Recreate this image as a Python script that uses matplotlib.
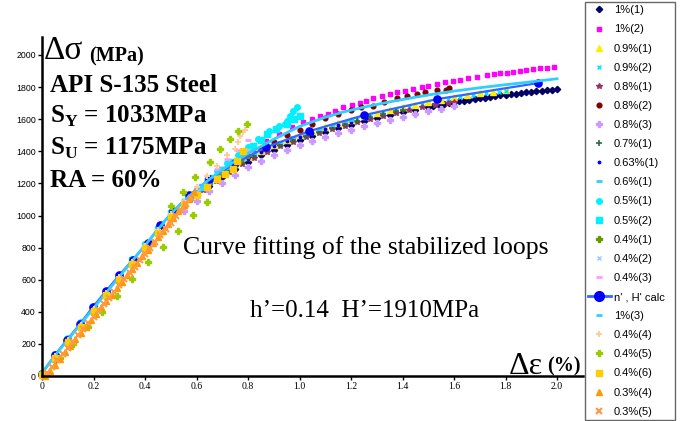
import matplotlib
matplotlib.use('Agg')
import matplotlib.pyplot as plt
from matplotlib.lines import Line2D

plt.rcParams['mathtext.fontset'] = 'custom'
plt.rcParams['mathtext.rm'] = 'Liberation Serif'
plt.rcParams['mathtext.bf'] = 'Liberation Serif:bold'

W, H = 689, 421

# ---------------- data (delta-epsilon in %, delta-sigma in MPa) ----------------
eps_lin = [0.00, 0.05, 0.10, 0.15, 0.20, 0.25, 0.30, 0.35, 0.40, 0.45, 0.50]

# 1%(1)
eps_1_1 = [0.55, 0.60, 0.65, 0.70, 0.75, 0.80, 0.85, 0.90, 0.95, 1.00, 1.05, 1.10, 1.15, 1.20, 1.25,
           1.30, 1.35, 1.40, 1.45, 1.50, 1.52, 1.54, 1.56, 1.58, 1.60, 1.62, 1.64, 1.66, 1.68, 1.70,
           1.72, 1.74, 1.76, 1.78, 1.80, 1.82, 1.84, 1.86, 1.88, 1.90, 1.92, 1.94, 1.96, 1.98, 2.00]
sig_1_1_lin = [5, 105, 205, 300, 400, 498, 595, 695, 792, 890, 985]
sig_1_1 = [1060, 1125, 1185, 1240, 1290, 1335, 1375, 1410, 1442, 1470, 1496, 1520, 1543, 1565, 1586,
           1606, 1625, 1643, 1660, 1676, 1682, 1688, 1694, 1700, 1706, 1711, 1716, 1720, 1725, 1730,
           1734, 1739, 1743, 1748, 1752, 1756, 1760, 1764, 1767, 1771, 1774, 1777, 1781, 1784, 1787]

# 1%(2)
eps_1_2 = [0.55, 0.60, 0.65, 0.70, 0.74, 0.78, 0.82, 0.87, 0.92, 0.97, 1.014, 1.048, 1.08, 1.11, 1.138,
           1.17, 1.203, 1.235, 1.26, 1.287, 1.32, 1.35, 1.377, 1.41, 1.44, 1.475, 1.50, 1.533, 1.565,
           1.597, 1.623, 1.656, 1.688, 1.727, 1.755, 1.78, 1.805, 1.83, 1.855, 1.88, 1.905, 1.934,
           1.96, 1.99]
sig_1_2_lin = [20, 130, 232, 330, 428, 527, 625, 722, 820, 918, 1015]
sig_1_2 = [1085, 1160, 1225, 1290, 1335, 1375, 1412, 1463, 1505, 1550, 1583, 1600, 1617, 1631, 1652,
           1673, 1688, 1704, 1714, 1729, 1742, 1754, 1767, 1777, 1787, 1798, 1808, 1817, 1829,
           1837, 1844, 1854, 1860, 1875, 1880, 1885, 1890, 1896, 1901, 1906, 1911, 1917,
           1921, 1926]

# 0.9%(1)
eps_09_1 = [0.55, 0.60, 0.65, 0.70, 0.75, 0.80, 0.85, 0.90, 0.95, 1.00, 1.05, 1.10, 1.15, 1.20, 1.25,
            1.30, 1.35, 1.40, 1.45, 1.50, 1.55, 1.60, 1.65, 1.70, 1.75, 1.80]
sig_09_1_lin = [10, 118, 215, 313, 412, 510, 608, 706, 804, 902, 1000]
sig_09_1 = [1085, 1150, 1212, 1268, 1318, 1363, 1403, 1440, 1472, 1500, 1527, 1551, 1574, 1596, 1617,
            1637, 1656, 1674, 1691, 1707, 1722, 1736, 1749, 1761, 1771, 1780]

# 0.9%(2)
eps_09_2 = [0.575, 0.625, 0.675, 0.725, 0.775, 0.825, 0.875, 0.925, 0.975, 1.025, 1.075, 1.125, 1.175,
            1.225, 1.275, 1.325, 1.375, 1.425, 1.475, 1.525, 1.575, 1.625, 1.675, 1.725, 1.775, 1.80]
sig_09_2_lin = [15, 122, 220, 320, 418, 515, 613, 711, 809, 907, 1005]
sig_09_2 = [1115, 1180, 1238, 1290, 1338, 1380, 1417, 1451, 1481, 1508, 1533, 1557, 1579,
            1600, 1621, 1640, 1659, 1676, 1693, 1708, 1723, 1737, 1749, 1761, 1772, 1778]

# 0.8%(1)
eps_08_1 = [0.575, 0.625, 0.675, 0.725, 0.775, 0.825, 0.875, 0.925, 0.975, 1.025, 1.075, 1.125, 1.175,
            1.225, 1.275, 1.325, 1.375, 1.425, 1.475, 1.525, 1.575, 1.60]
sig_08_1_lin = [8, 108, 206, 303, 400, 500, 597, 695, 793, 890, 990]
sig_08_1 = [1100, 1160, 1218, 1270, 1318, 1360, 1397, 1431, 1461, 1488, 1513, 1536, 1559,
            1580, 1601, 1620, 1639, 1656, 1673, 1689, 1703, 1710]

# 0.8%(2)
eps_08_2 = [0.55, 0.60, 0.65, 0.70, 0.75, 0.80, 0.85, 0.90, 0.95, 1.00, 1.05, 1.10, 1.15, 1.20, 1.24,
            1.286, 1.33, 1.377, 1.416, 1.455, 1.487, 1.533, 1.57, 1.58]
sig_08_2_lin = [10, 112, 210, 310, 407, 505, 603, 701, 800, 897, 995]
sig_08_2 = [1075, 1145, 1210, 1268, 1320, 1368, 1412, 1460, 1500, 1535, 1570, 1605, 1635, 1655, 1673,
            1683, 1708, 1729, 1746, 1760, 1771, 1781, 1783, 1794]

# 0.8%(3)
eps_08_3 = [0.55, 0.60, 0.65, 0.70, 0.75, 0.80, 0.85, 0.90, 0.95, 1.00, 1.05, 1.10, 1.15, 1.20, 1.25,
            1.30, 1.35, 1.40, 1.45, 1.50, 1.55, 1.60]
sig_08_3_lin = [0, 95, 195, 292, 390, 490, 588, 686, 784, 882, 980]
sig_08_3 = [1030, 1090, 1150, 1205, 1255, 1300, 1340, 1378, 1410, 1440, 1466, 1490, 1513, 1535, 1556,
            1576, 1596, 1615, 1633, 1650, 1666, 1681]

# 0.7%(1)
eps_07_1 = [0.575, 0.625, 0.675, 0.725, 0.775, 0.825, 0.875, 0.925, 0.975, 1.025, 1.075, 1.125, 1.175,
            1.225, 1.275, 1.325, 1.375, 1.40]
sig_07_1_lin = [5, 112, 212, 308, 406, 505, 602, 700, 798, 896, 995]
sig_07_1 = [1110, 1170, 1228, 1280, 1328, 1370, 1407, 1441, 1471, 1498, 1523, 1546, 1569,
            1590, 1611, 1630, 1649, 1658]

# 0.63%(1)
eps_063_1 = [0.55, 0.60, 0.65, 0.70, 0.75, 0.80, 0.85, 0.90, 0.95, 1.00, 1.05, 1.10, 1.15, 1.20, 1.26]
sig_063_1_lin = [10, 116, 215, 314, 412, 510, 608, 706, 804, 902, 1000]
sig_063_1 = [1080, 1145, 1205, 1260, 1310, 1355, 1395, 1430, 1462, 1490, 1516, 1540, 1563, 1585, 1610]

# 0.6%(1)
eps_06_1 = [0.575, 0.625, 0.675, 0.725, 0.775, 0.825, 0.875, 0.925, 0.975, 1.025, 1.075, 1.125,
            1.175, 1.20]
sig_06_1_lin = [15, 125, 225, 322, 420, 520, 618, 716, 814, 912, 1010]
sig_06_1 = [1120, 1185, 1243, 1296, 1345, 1388, 1425, 1460, 1490, 1517, 1542, 1566, 1588, 1598]

# 0.5%(1)
eps_05_1 = [0.55, 0.60, 0.64, 0.68, 0.72, 0.76, 0.80, 0.84, 0.88, 0.92, 0.944, 0.95, 0.963, 0.976, 0.989]
sig_05_1_lin = [20, 135, 236, 335, 432, 530, 628, 726, 824, 922, 1020]
sig_05_1 = [1090, 1165, 1220, 1275, 1325, 1378, 1428, 1478, 1525, 1560, 1569, 1590, 1621, 1652, 1673]

# 0.5%(2)
eps_05_2 = [0.575, 0.62, 0.66, 0.70, 0.74, 0.78, 0.82, 0.85, 0.873, 0.91, 0.95, 0.98, 1.00]
sig_05_2_lin = [15, 130, 230, 330, 427, 525, 623, 721, 819, 917, 1015]
sig_05_2 = [1120, 1180, 1235, 1285, 1335, 1385, 1432, 1470, 1506, 1540, 1569, 1600, 1620]

# 0.4%(1)
eps_04_1 = [0.55, 0.60, 0.65, 0.70, 0.74, 0.77, 0.80]
sig_04_1_lin = [5, 102, 200, 298, 396, 495, 593, 690, 788, 886, 985]
sig_04_1 = [1070, 1140, 1205, 1265, 1310, 1345, 1380]

# 0.4%(2)
eps_04_2 = [0.55, 0.60, 0.65, 0.70, 0.74, 0.78, 0.80]
sig_04_2_lin = [15, 120, 220, 318, 415, 515, 612, 710, 808, 906, 1005]
sig_04_2 = [1080, 1150, 1218, 1280, 1330, 1380, 1410]

# 0.4%(3)
eps_04_3 = [0.55, 0.60, 0.64, 0.68, 0.72, 0.76, 0.80]
sig_04_3_lin = [20, 126, 226, 324, 422, 520, 618, 716, 814, 912, 1010]
sig_04_3 = [1090, 1165, 1230, 1290, 1350, 1410, 1470]

# n', H' calc
eps_calc = [0.0, 0.05, 0.097, 0.148, 0.198, 0.25, 0.30, 0.353, 0.41, 0.46, 0.51, 0.57, 0.65, 0.75,
            0.87, 1.037, 1.25, 1.534, 1.926]
sig_calc = [15, 131, 225, 325, 431, 531, 628, 725, 831, 938, 1025, 1125, 1225, 1325,
            1425, 1525, 1625, 1725, 1825]

# 1%(3)
eps_1_3 = [0.55, 0.60, 0.65, 0.70, 0.75, 0.80, 0.85, 0.90, 0.95, 1.00, 1.10, 1.17, 1.25, 1.35, 1.45,
           1.52, 1.60, 1.70, 1.80, 1.90, 2.00]
sig_1_3_lin = [20, 126, 226, 324, 422, 520, 618, 716, 814, 912, 1010]
sig_1_3 = [1090, 1160, 1225, 1285, 1340, 1388, 1430, 1475, 1515, 1555, 1612, 1645, 1675, 1708, 1737,
           1756, 1775, 1796, 1815, 1833, 1852]

# 0.4%(4)
eps_04_4 = [0.55, 0.60, 0.64, 0.68, 0.72, 0.75, 0.76, 0.77, 0.78, 0.79]
sig_04_4_lin = [15, 122, 222, 320, 418, 517, 615, 713, 811, 909, 1008]
sig_04_4 = [1090, 1175, 1245, 1310, 1375, 1412, 1456, 1494, 1519, 1530]

# 0.4%(5)
eps_04_5 = [0.004, 0.07, 0.12, 0.18, 0.233, 0.29, 0.35, 0.41, 0.47, 0.528, 0.586, 0.64,
            0.50, 0.548, 0.594, 0.652, 0.69, 0.73, 0.76, 0.796]
sig_04_5 = [25, 110, 200, 306, 400, 500, 606, 712, 806, 906, 1006, 1081,
            1060, 1144, 1237, 1331, 1412, 1475, 1525, 1569]

# 0.4%(6)
eps_04_6 = [0.55, 0.60, 0.64, 0.68, 0.71, 0.74, 0.757, 0.78]
sig_04_6_lin = [5, 110, 210, 306, 404, 502, 600, 698, 796, 894, 993]
sig_04_6 = [1065, 1130, 1180, 1225, 1260, 1290, 1338, 1400]

# 0.3%(4)
eps_03_4 = [0.01, 0.03, 0.05, 0.07, 0.09, 0.11, 0.13, 0.15, 0.17, 0.19, 0.21, 0.23, 0.25, 0.27, 0.29,
            0.31, 0.33, 0.35, 0.37, 0.39, 0.41, 0.43, 0.45, 0.47, 0.49, 0.51, 0.53, 0.55, 0.57, 0.59]
sig_03_4 = [0, 30, 70, 109, 149, 189, 229, 269, 308, 348, 388, 428, 468, 507, 547,
            587, 627, 667, 706, 746, 786, 826, 866, 905, 945, 985, 1025, 1065, 1104, 1144]

# 0.3%(5)
eps_03_5 = [0.02, 0.04, 0.06, 0.08, 0.10, 0.12, 0.14, 0.16, 0.18, 0.20, 0.22, 0.24, 0.26, 0.28, 0.30,
            0.32, 0.34, 0.36, 0.38, 0.40, 0.42, 0.44, 0.46, 0.48, 0.50, 0.52, 0.54, 0.56, 0.58]
sig_03_5 = [20, 58, 97, 136, 175, 214, 253, 292, 331, 370, 409, 448, 487, 526, 565,
            604, 643, 682, 721, 760, 799, 838, 877, 916, 955, 994, 1033, 1072, 1111]

labels = ['1%(1)', '1%(2)', '0.9%(1)', '0.9%(2)', '0.8%(1)', '0.8%(2)', '0.8%(3)', '0.7%(1)',
          '0.63%(1)', '0.6%(1)', '0.5%(1)', '0.5%(2)', '0.4%(1)', '0.4%(2)', '0.4%(3)',
          "n' , H' calc", '1%(3)', '0.4%(4)', '0.4%(5)', '0.4%(6)', '0.3%(4)', '0.3%(5)']

series = [
    (eps_lin + eps_1_1, sig_1_1_lin + sig_1_1),
    (eps_lin + eps_1_2, sig_1_2_lin + sig_1_2),
    (eps_lin + eps_09_1, sig_09_1_lin + sig_09_1),
    (eps_lin + eps_09_2, sig_09_2_lin + sig_09_2),
    (eps_lin + eps_08_1, sig_08_1_lin + sig_08_1),
    (eps_lin + eps_08_2, sig_08_2_lin + sig_08_2),
    (eps_lin + eps_08_3, sig_08_3_lin + sig_08_3),
    (eps_lin + eps_07_1, sig_07_1_lin + sig_07_1),
    (eps_lin + eps_063_1, sig_063_1_lin + sig_063_1),
    (eps_lin + eps_06_1, sig_06_1_lin + sig_06_1),
    (eps_lin + eps_05_1, sig_05_1_lin + sig_05_1),
    (eps_lin + eps_05_2, sig_05_2_lin + sig_05_2),
    (eps_lin + eps_04_1, sig_04_1_lin + sig_04_1),
    (eps_lin + eps_04_2, sig_04_2_lin + sig_04_2),
    (eps_lin + eps_04_3, sig_04_3_lin + sig_04_3),
    (eps_calc, sig_calc),
    (eps_lin + eps_1_3, sig_1_3_lin + sig_1_3),
    (eps_lin + eps_04_4, sig_04_4_lin + sig_04_4),
    (eps_04_5, sig_04_5),
    (eps_lin + eps_04_6, sig_04_6_lin + sig_04_6),
    (eps_03_4, sig_03_4),
    (eps_03_5, sig_03_5),
]

# ---------------- styles ----------------
styles = [
    dict(marker='D', color='#000066', ms=3.2),
    dict(marker='s', color='#FF00FF', ms=3.4),
    dict(marker='^', color='#FFEE00', ms=4.0),
    dict(marker='x', color='#00E8FF', ms=3.5, mew=1.0),
    dict(marker='*', color='#993366', ms=4.0),
    dict(marker='o', color='#800000', ms=3.4),
    dict(marker='P', color='#CC99FF', ms=5.0),
    dict(marker='+', color='#2E6B3A', ms=4.0, mew=1.2),
    dict(marker='.', color='#0000FF', ms=3.5),
    dict(marker='_', color='#33CCFF', ms=5.0, mew=2.0),
    dict(marker='o', color='#00F0FF', ms=4.0),
    dict(marker='s', color='#00F0FF', ms=4.0),
    dict(marker='P', color='#669900', ms=4.5),
    dict(marker='x', color='#99CCFF', ms=3.5, mew=1.0),
    dict(marker='_', color='#FF99FF', ms=5.0, mew=2.0),
    None,   # calc
    None,   # 1%(3) line
    dict(marker='+', color='#FFCC99', ms=4.5, mew=1.4),
    dict(marker='P', color='#99CC00', ms=5.0),
    dict(marker='s', color='#FFCC00', ms=4.0),
    dict(marker='^', color='#FF9900', ms=4.8),
    dict(marker='x', color='#FF9944', ms=4.0, mew=1.5),
]

fig = plt.figure(figsize=(W / 100, H / 100), dpi=100)
ax_l, ax_r = 42, 583
ax_b, ax_t = 376, 37
ax = fig.add_axes([ax_l / W, 1 - ax_b / H, (ax_r - ax_l) / W, (ax_b - ax_t) / H])
ax.set_xlim(0, (ax_r - ax_l) / 257.5)
ax.set_ylim(0, (ax_b - ax_t) / 0.1605)

handles = []
for i, ((xs, ys), st) in enumerate(zip(series, styles)):
    if i == 15:
        ax.plot(xs, ys, color='#3366FF', lw=1.6, marker='o', ms=5.2, mfc='#0000FF', mec='#0000FF',
                clip_on=False, zorder=3)
        handles.append(Line2D([], [], color='#3366FF', lw=2.0, marker='o', ms=7, mfc='#0000FF',
                              mec='#0000FF'))
    elif i == 16:
        ax.plot(xs, ys, color='#33CCFF', lw=2.0, clip_on=False, zorder=3)
        handles.append(Line2D([], [], ls='none', marker='_', color='#33CCFF', ms=5, mew=2))
    else:
        st = dict(st)
        c = st.pop('color')
        ax.plot(xs, ys, ls='none', color=c, mec=c, mfc=c, clip_on=False, zorder=3, **st)
        handles.append(Line2D([], [], ls='none', color=c, mec=c, mfc=c, **st))

# axes styling
for s in ('top', 'right'):
    ax.spines[s].set_visible(False)
for s in ('left', 'bottom'):
    ax.spines[s].set_linewidth(1.8)
    ax.spines[s].set_zorder(5)
ax.set_xticks([0, 0.2, 0.4, 0.6, 0.8, 1.0, 1.2, 1.4, 1.6, 1.8, 2.0])
ax.set_xticklabels(['0', '0.2', '0.4', '0.6', '0.8', '1.0', '1.2', '1.4', '1.6', '1.8', '2.0'],
                   family='Liberation Serif', fontsize=7)
ax.set_yticks(range(0, 2001, 200))
ax.set_yticklabels([str(v) for v in range(0, 2001, 200)], family='Liberation Sans', fontsize=6.3)
ax.tick_params(axis='both', direction='out', length=3, width=1, pad=1.5)
ax.set_facecolor('none')


def ftext(x, y, s, **kw):
    fig.text(x / W, 1 - y / H, s, va='baseline', ha='left', **kw)


serif = 'Liberation Serif'
ftext(44, 59, 'Δσ', family=serif, fontsize=24)
ftext(89, 61, '(MPa)', family=serif, fontsize=14.5, fontweight='bold')
ftext(50, 92, 'API S-135 Steel', family=serif, fontsize=18, fontweight='bold')
ftext(50, 123, r'$\mathbf{S}_{\mathbf{Y}}$ = 1033MPa', family=serif, fontsize=18, fontweight='bold')
ftext(50, 155, r'$\mathbf{S}_{\mathbf{U}}$ = 1175MPa', family=serif, fontsize=18, fontweight='bold')
ftext(50, 187, 'RA = 60%', family=serif, fontsize=18, fontweight='bold')
ftext(183, 254, 'Curve fitting of the stabilized loops', family=serif, fontsize=18.5)
ftext(250, 317, 'h\u2019=0.14  H\u2019=1910MPa', family=serif, fontsize=18)
ftext(509, 374, 'Δε', family=serif, fontsize=23)
ftext(547, 371, '(%)', family=serif, fontsize=14.5, fontweight='bold')

leg = fig.legend(handles, labels, loc='lower left',
                 bbox_to_anchor=(585 / W, 1 / H, 90 / W, 0.3), mode='expand',
                 prop={'family': 'Liberation Sans', 'size': 8},
                 frameon=True, fancybox=False, edgecolor='#404040', borderpad=0.3,
                 handlelength=2.0, handletextpad=0.3, labelspacing=0.82, borderaxespad=0,
                 numpoints=1)
leg.get_frame().set_linewidth(1.0)

fig.savefig('out.png', dpi=100)
